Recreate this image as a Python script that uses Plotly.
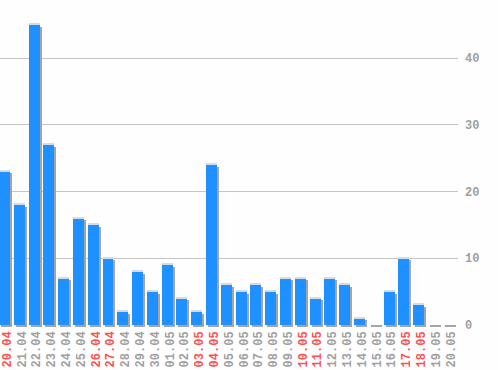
import plotly.graph_objects as go

dates = ["20.04","21.04","22.04","23.04","24.04","25.04","26.04","27.04","28.04","29.04",
         "30.04","01.05","02.05","03.05","04.05","05.05","06.05","07.05","08.05","09.05",
         "10.05","11.05","12.05","13.05","14.05","15.05","16.05","17.05","18.05","19.05","20.05"]
values = [23,18,45,27,7,16,15,10,2,8,
          5,9,4,2,24,6,5,6,5,7,
          7,4,7,6,1,0,5,10,3,0,0]
weekend = ["20.04","26.04","27.04","03.05","04.05","10.05","11.05","17.05","18.05"]
y_ticks = [0, 10, 20, 30, 40]

BLUE = "#1e90ff"
SHADOW = "#a4a4a4"
GRAY = "#a0a0a0"
RED = "#ff5050"

W, H = 498, 370
plot_w, plot_h = 458, 330
x_range = [-0.3, 30.66]
y_range = [-0.75, 48.69]
px_x = (x_range[1] - x_range[0]) / plot_w
px_y = (y_range[1] - y_range[0]) / plot_h

xs = list(range(len(dates)))
bw = 0.74

ticktext = [f"<span style='color:{RED}'>{d}</span>" if d in weekend else d for d in dates]

fig = go.Figure()
# shadow
fig.add_trace(go.Bar(
    x=xs, y=[max(v, 0.15) for v in values], base=-2 * px_y,
    width=bw, offset=-bw / 2 + 2 * px_x,
    marker=dict(color=SHADOW, line=dict(width=0)), hoverinfo="skip", showlegend=False))
# main bars
fig.add_trace(go.Bar(
    x=xs, y=values, width=bw, offset=-bw / 2,
    marker=dict(color=BLUE, line=dict(width=0)), showlegend=False))
# top highlight
fig.add_trace(go.Bar(
    x=[x for x, v in zip(xs, values) if v > 0],
    y=[px_y for v in values if v > 0],
    base=[v for v in values if v > 0],
    width=bw, offset=-bw / 2,
    marker=dict(color="#d4dbe2", line=dict(width=0)), hoverinfo="skip", showlegend=False))

fig.update_layout(
    width=W, height=H,
    margin=dict(l=0, r=W - plot_w, t=0, b=H - plot_h, pad=0),
    paper_bgcolor="#fefefe", plot_bgcolor="#fefefe",
    barmode="overlay", bargap=0,
    font=dict(family="Liberation Mono", size=12, color=GRAY),
    xaxis=dict(range=x_range, tickmode="array", tickvals=[x + 2.5 * px_x for x in xs],
               ticktext=ticktext,
               tickangle=-90, showgrid=False, zeroline=False, showline=False, ticks="",
               tickfont=dict(family="Liberation Mono", size=12, color=GRAY, weight="bold"),
               ticklabelstandoff=-2, automargin=False, ticklabeloverflow="allow"),
    yaxis=dict(range=y_range, side="right", tickmode="array", tickvals=y_ticks,
               showgrid=True, gridcolor="#c4c4c4", gridwidth=1,
               zeroline=True, zerolinecolor="#fefefe", zerolinewidth=1,
               showline=False, ticks="",
               tickfont=dict(family="Liberation Mono", size=12, color=GRAY, weight="bold"),
               ticklabelstandoff=6, automargin=False, ticklabeloverflow="allow"),
)

fig.write_html("out.html", config={"displayModeBar": False},
               post_script="document.body.style.margin='0';document.body.style.padding='0';")
